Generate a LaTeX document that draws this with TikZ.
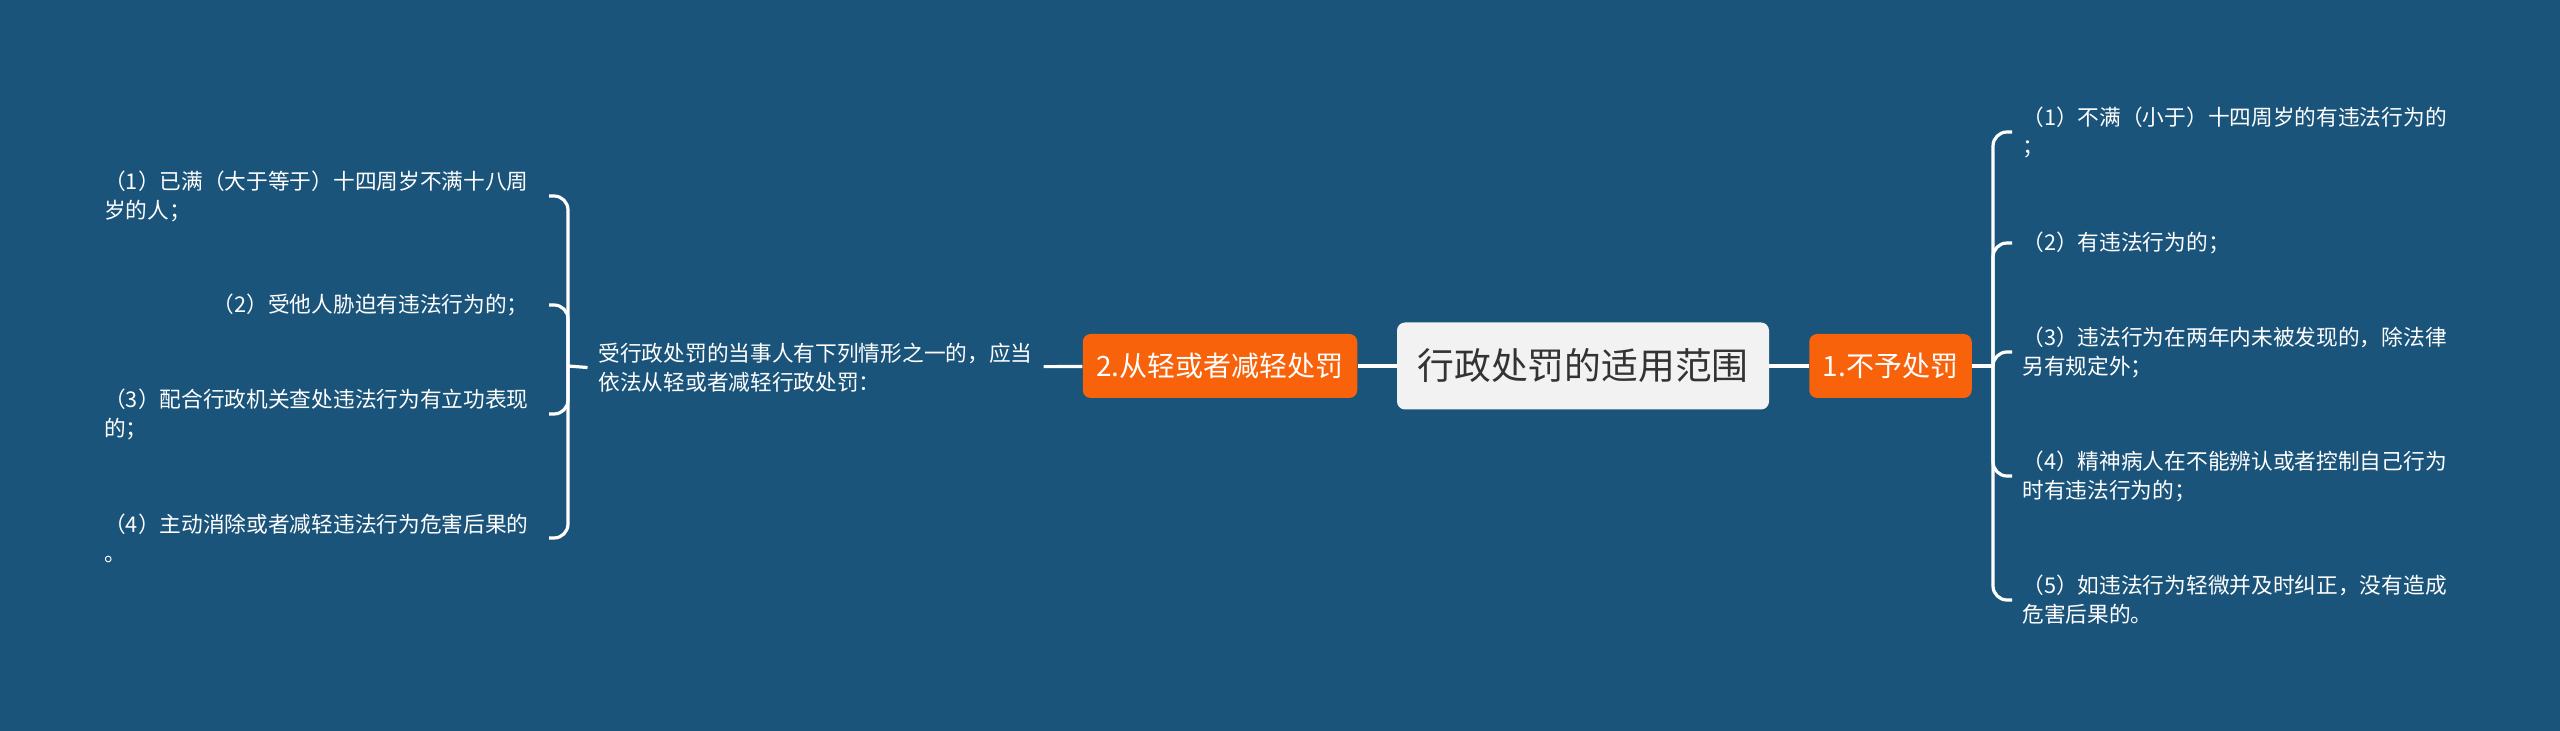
\documentclass[tikz,border=0pt]{standalone}
\usepackage{fontspec}
\setmainfont{Noto Sans CJK SC}
\usepackage{tikz}
\usetikzlibrary{positioning}
\definecolor{bgblue}{HTML}{1A547A}
\definecolor{topicorange}{HTML}{F8620A}
\definecolor{rootgray}{HTML}{F2F2F2}
\definecolor{roottext}{HTML}{333333}
\tikzset{
    root/.style={fill=rootgray, text=roottext, rounded corners=4pt, inner sep=0pt,
        minimum width=186pt, minimum height=43.5pt, font=\fontsize{18.4}{22}\selectfont},
    topic/.style={fill=topicorange, text=white, rounded corners=4pt, inner xsep=6.8pt,
        inner ysep=0pt, minimum height=32pt, font=\fontsize{14}{17}\selectfont},
    leaf/.style={text=white, align=left, inner ysep=2pt, font=\fontsize{10.85}{14.5}\selectfont},
    link/.style={draw=white, line width=1.6pt},
}

\begin{document}
\begin{tikzpicture}[x=0.5pt, y=-0.5pt]
    \fill [bgblue] (0, 0) rectangle (2560, 731);
    \useasboundingbox (0, 0) rectangle (2560, 731);

    \node [root] (root) at (1583, 366) {行政处罚的适用范围};
    \node [topic] (lighter) at (1220, 366) {2.从轻或者减轻处罚};
    \node [topic] (exempt) at (1890.5, 366) {1.不予处罚};
    \node [leaf, inner xsep=5.3pt] (cond) at (815.5, 367.5) {受行政处罚的当事人有下列情形之一的，应当\\依法从轻或者减轻行政处罚：};

    \coordinate (jl) at (568, 366);
    \coordinate (jr) at (1993, 366);

    \node [leaf, anchor=east, inner xsep=10pt] (l1) at (549, 196) {（1）已满（大于等于）十四周岁不满十八周\\岁的人；};
    \node [leaf, anchor=east, inner xsep=10pt] (l2) at (549, 305) {（2）受他人胁迫有违法行为的；};
    \node [leaf, anchor=east, inner xsep=10pt] (l3) at (549, 414) {（3）配合行政机关查处违法行为有立功表现\\的；};
    \node [leaf, anchor=east, inner xsep=10pt] (l4) at (549, 538) {（4）主动消除或者减轻违法行为危害后果的\\。};

    \node [leaf, anchor=west, inner xsep=5pt] (r1) at (2012, 132) {（1）不满（小于）十四周岁的有违法行为的\\；};
    \node [leaf, anchor=west, inner xsep=5pt] (r2) at (2012, 243) {（2）有违法行为的；};
    \node [leaf, anchor=west, inner xsep=5pt] (r3) at (2012, 352) {（3）违法行为在两年内未被发现的，除法律\\另有规定外；};
    \node [leaf, anchor=west, inner xsep=5pt] (r4) at (2012, 476) {（4）精神病人在不能辨认或者控制自己行为\\时有违法行为的；};
    \node [leaf, anchor=west, inner xsep=5pt] (r5) at (2012, 600) {（5）如违法行为轻微并及时纠正，没有造成\\危害后果的。};

    \draw [link] (root) -- (lighter);
    \draw [link] (root) -- (exempt);
    \draw [link] (lighter) -- (cond);
    \draw [link] (cond.west) -- (jl);
    \draw [link] (exempt.east) -- (jr);
    \foreach \i in {1,...,4}
        \draw [link, rounded corners=7pt] (jl) |- (l\i.east);
    \foreach \i in {1,...,5}
        \draw [link, rounded corners=7pt] (jr) |- (r\i.west);
\end{tikzpicture}
\end{document}
